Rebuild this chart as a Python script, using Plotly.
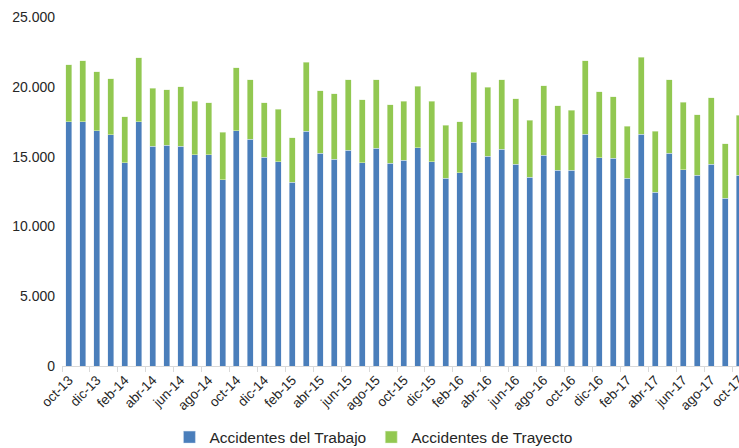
import plotly.graph_objects as go

months = ["oct-13","nov-13","dic-13","ene-14","feb-14","mar-14","abr-14","may-14","jun-14","jul-14","ago-14","sep-14",
          "oct-14","nov-14","dic-14","ene-15","feb-15","mar-15","abr-15","may-15","jun-15","jul-15","ago-15","sep-15",
          "oct-15","nov-15","dic-15","ene-16","feb-16","mar-16","abr-16","may-16","jun-16","jul-16","ago-16","sep-16",
          "oct-16","nov-16","dic-16","ene-17","feb-17","mar-17","abr-17","may-17","jun-17","jul-17","ago-17","sep-17",
          "oct-17"]

trabajo = [17500, 17500, 16860, 16550, 14550, 17500, 15730, 15810, 15730, 15140, 15140, 13350,
           16860, 16240, 14950, 14620, 13160, 16810, 15230, 14800, 15450, 14550, 15590, 14520,
           14730, 15620, 14620, 13440, 13850, 16020, 15020, 15520, 14450, 13510, 15090, 14020,
           14020, 16590, 14920, 14870, 13440, 16590, 12440, 15230, 14070, 13660, 14470, 12010,
           13660]

trayecto = [4080, 4370, 4220, 4010, 3290, 4580, 4180, 3980, 4260, 3810, 3700, 3410,
            4490, 4270, 3910, 3790, 3200, 4940, 4470, 4710, 5060, 4530, 4920, 4200,
            4250, 4410, 4360, 3800, 3630, 5010, 4940, 4990, 4700, 4110, 4990, 4610,
            4290, 5260, 4730, 4420, 3730, 5540, 4370, 5280, 4810, 4340, 4750, 3920,
            4290]

names = ["Accidentes del Trabajo", "Accidentes de Trayecto"]
colors = ["#4A7EBB", "#92C851"]

fig = go.Figure()
fig.add_trace(go.Bar(x=months, y=trabajo, name=names[0], marker=dict(color=colors[0], line=dict(color="#dde6f2", width=0.5))))
fig.add_trace(go.Bar(x=months, y=trayecto, name=names[1], marker=dict(color=colors[1], line=dict(color="#e6f2d8", width=0.5))))

fig.update_layout(
    barmode="stack",
    bargap=0.57,
    width=739, height=448,
    margin=dict(l=62, r=0, t=17, b=81.5, autoexpand=False),
    paper_bgcolor="white", plot_bgcolor="white",
    separators=",.",
    font=dict(family="Liberation Sans, Arial, sans-serif", color="#262626"),
    showlegend=True,
    legend=dict(orientation="h", x=0.46, xanchor="center", y=-0.205, yanchor="middle",
                font=dict(size=15.5, color="#262626"), traceorder="normal"),
)
fig.update_xaxes(
    type="category", range=[-0.5, 48.0], automargin=False,
    tickmode="linear", tick0=0, dtick=2, tickson="boundaries",
    ticks="outside", ticklen=5, tickcolor="#d9d9d9",
    showline=True, linecolor="#d9d9d9", linewidth=1,
    tickangle=-45, tickfont=dict(size=13.5, color="#262626"),
    showgrid=False,
)
fig.update_yaxes(
    range=[0, 25000], dtick=5000, tickformat=",d", automargin=False,
    showgrid=False, zeroline=False, showline=False,
    ticklabelstandoff=6,
    tickfont=dict(size=14, color="#262626"),
)

fig.write_html("out.html",
               config={"displayModeBar": False},
               post_script="document.body.style.margin='0';document.body.style.overflow='hidden';")
